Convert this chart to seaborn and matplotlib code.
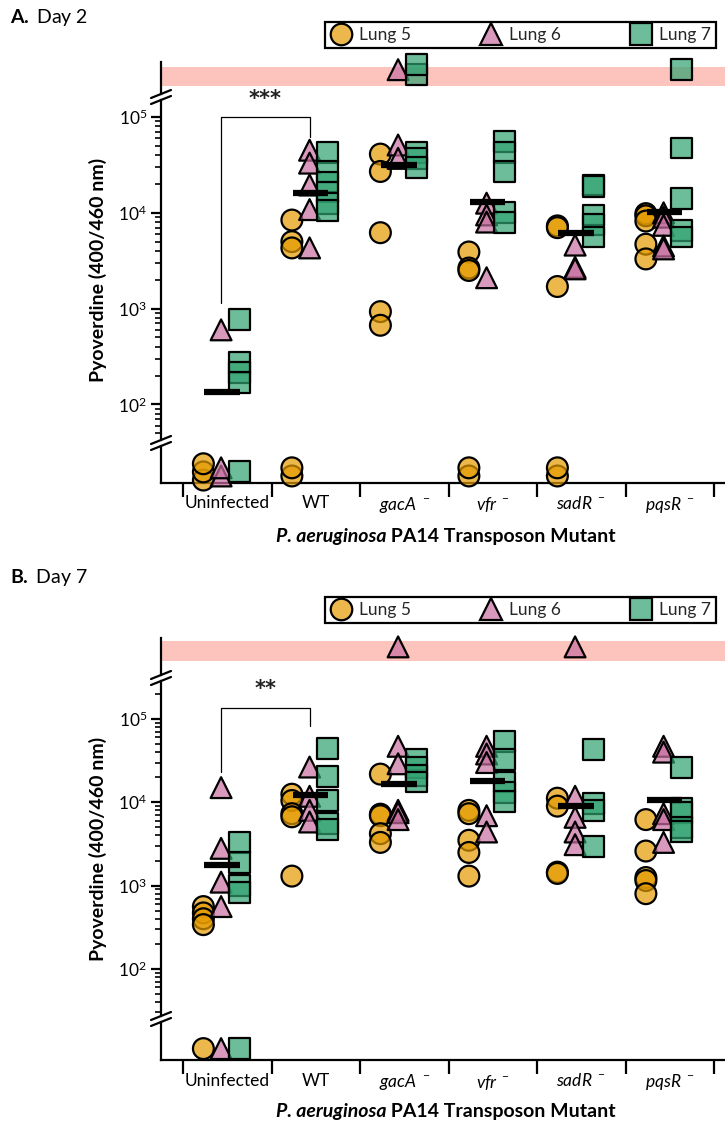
import numpy as np
import pandas as pd
import matplotlib
matplotlib.use("Agg")
import matplotlib.pyplot as plt
from matplotlib.lines import Line2D
from matplotlib.offsetbox import TextArea, HPacker, AnchoredOffsetbox
from matplotlib.ticker import LogLocator, LogFormatterSciNotation, NullFormatter, FixedLocator
import seaborn as sns

sns.set_theme(style="white")
plt.rcParams["font.family"] = ["Lato", "DejaVu Sans"]
plt.rcParams["mathtext.fontset"] = "custom"
plt.rcParams["mathtext.rm"] = "Lato"
plt.rcParams["mathtext.it"] = "Lato:italic"
plt.rcParams["mathtext.bf"] = "Lato:bold"
plt.rcParams["mathtext.default"] = "regular"

ND = 0.0       # below the detection limit
SAT = np.inf   # above the plate-reader range

categories = ["Uninfected", "WT", "gacA", "vfr", "sadR", "pqsR"]
is_mutant = [False, False, True, True, True, True]
lungs = ["Lung 5", "Lung 6", "Lung 7"]

# ---- Day 2 readings (one list per strain) ----
day2_lung5 = [
    [ND, ND, ND],
    [8400, 5000, 4300, ND, ND],
    [41000, 27000, 6200, 930, 670],
    [3900, 2650, 2500, ND, ND],
    [7300, 7000, 1700, ND, ND],
    [9800, 9300, 8200, 4700, 3300],
]
day2_lung6 = [
    [600, ND, ND],
    [45000, 33000, 19500, 10800, 4300],
    [51000, 37000, SAT],
    [12600, 9500, 8000, 2100],
    [4600, 2700, 2600],
    [10000, 9000, 7400, 4500, 4200],
]
day2_lung7 = [
    [770, 275, 215, 170, ND],
    [43000, 27000, 21000, 16500, 12500, 10500],
    [43000, 37000, 29500, SAT, SAT],
    [55000, 43000, 27000, 10000, 8000],
    [19500, 19000, 9500, 7500, 5600],
    [47500, 14000, 6600, 5600, SAT],
]
day2_center = [136, 16200, 31600, 13000, 6200, 10200]

# ---- Day 7 readings ----
day7_lung5 = [
    [560, 470, 400, 340, ND],
    [12500, 10500, 7300, 6700, 1300],
    [21800, 7200, 6900, 4200, 3300],
    [8000, 7300, 3500, 2500, 1300],
    [11200, 9000, 1450, 1400],
    [6200, 2600, 1250, 1150, 800],
]
day7_lung6 = [
    [15000, 2800, 1100, 560, ND],
    [26500, 11800, 8000, 5800],
    [47000, 29000, 8000, 7500, 6200, SAT],
    [47000, 38000, 30000, 6900, 4400],
    [11800, 6600, 4400, 3100, SAT],
    [47000, 40000, 7300, 6200, 3300],
]
day7_lung7 = [
    [3300, 1900, 1000, 820, ND],
    [44600, 20300, 10500, 5600, 4700],
    [33000, 26000, 21000, 17500],
    [54000, 33000, 17500, 13000, 10200],
    [43000, 9700, 8000, 2950],
    [26000, 8500, 7500, 5000, 4500],
]
day7_center = [1790, 12200, 16700, 18000, 9060, 10700]

# ---- styling ----
face = {
    "Lung 5": (0.894, 0.608, 0.0, 0.70),
    "Lung 6": (0.784, 0.431, 0.627, 0.70),
    "Lung 7": (0.188, 0.635, 0.439, 0.70),
}
markers = {"Lung 5": "o", "Lung 6": "^", "Lung 7": "s"}
x_shift = {"Lung 5": -0.27, "Lung 6": -0.07, "Lung 7": 0.135}
band_color = "#FCC4BD"

W, H = 725, 1124
fig = plt.figure(figsize=(W / 100, H / 100), dpi=100)


def fy(py):
    return 1 - py / H


def long_table(series):
    rows = []
    for lung, per_cat in zip(lungs, series):
        for ci, vals in enumerate(per_cat):
            for v in vals:
                rows.append({"cat": ci, "lung": lung, "value": v})
    df = pd.DataFrame(rows)
    df["x"] = df["cat"] + df["lung"].map(x_shift)
    return df


def stacked(d, center, step):
    k = d.groupby(["cat", "lung"]).cumcount()
    n = d.groupby(["cat", "lung"])["value"].transform("size")
    return center + step * (k - (n - 1) / 2)


def points(ax, d, ycol):
    sns.scatterplot(data=d, x="x", y=ycol, hue="lung", style="lung",
                    hue_order=lungs, style_order=lungs, palette=face,
                    markers=markers, s=225, edgecolor="black", linewidth=1.6,
                    legend=False, ax=ax, clip_on=False, zorder=3)
    ax.set_xlabel("")
    ax.set_ylabel("")


XLIM = (-0.749, 5.624)
LEFT = 161 / W
WIDTH = (W - 161) / W


def panel(series, centers, title, title_y, legend_top, xlabel_y, top_px, mid_px,
          bot_px, dec5_px, px_per_dec, band_px, bracket, stars, stars_y):
    df = long_table(series)
    ax_top = fig.add_axes([LEFT, fy(top_px[1]), WIDTH, (top_px[1] - top_px[0]) / H])
    ax_mid = fig.add_axes([LEFT, fy(mid_px[1]), WIDTH, (mid_px[1] - mid_px[0]) / H])
    ax_bot = fig.add_axes([LEFT, fy(bot_px[1]), WIDTH, (bot_px[1] - bot_px[0]) / H])

    for ax in (ax_top, ax_mid, ax_bot):
        ax.set_facecolor("none")
        ax.set_xlim(*XLIM)
        for s in ("top", "right", "bottom"):
            ax.spines[s].set_visible(False)
        ax.spines["left"].set_linewidth(1.6)
        ax.spines["left"].set_color("black")
        ax.tick_params(axis="x", which="both", bottom=False, labelbottom=False)
    ax_bot.spines["bottom"].set_visible(True)
    ax_bot.spines["bottom"].set_linewidth(1.6)
    ax_bot.spines["bottom"].set_color("black")

    # overflow band
    ax_top.set_ylim(0, 1)
    ax_top.set_yticks([])
    th = top_px[1] - top_px[0]
    ax_top.axhspan((top_px[1] - band_px[1]) / th, (top_px[1] - band_px[0]) / th,
                   color=band_color, lw=0, zorder=0)
    sat = df[np.isinf(df["value"])].copy()
    sat["ypos"] = stacked(sat, 0.76, 0.3)
    points(ax_top, sat, "ypos")
    ax_top.set_xlim(*XLIM)

    # measured range on a log scale
    lo = 10 ** (5 - (mid_px[1] - dec5_px) / px_per_dec)
    hi = 10 ** (5 + (dec5_px - mid_px[0]) / px_per_dec)
    meas = df[(df["value"] > 0) & np.isfinite(df["value"])].copy()
    points(ax_mid, meas, "value")
    ax_mid.set_yscale("log")
    ax_mid.set_ylim(lo, hi)
    ax_mid.set_xlim(*XLIM)
    ax_mid.yaxis.set_major_locator(FixedLocator([1e2, 1e3, 1e4, 1e5]))
    ax_mid.yaxis.set_major_formatter(LogFormatterSciNotation())
    ax_mid.yaxis.set_minor_locator(LogLocator(base=10, subs=np.arange(2, 10), numticks=20))
    ax_mid.yaxis.set_minor_formatter(NullFormatter())
    ax_mid.tick_params(axis="y", which="major", left=True, direction="out",
                       length=7, width=1.6, labelsize=12.5, pad=3, colors="black")
    ax_mid.tick_params(axis="y", which="minor", left=True, direction="out",
                       length=4, width=1.2, colors="black")
    ax_mid.set_ylabel("Pyoverdine (400/460 nm)", fontsize=14, fontweight="bold",
                      labelpad=8, color="black")

    # group centre lines
    cats = np.arange(len(categories))
    ax_mid.hlines(centers, cats - 0.26, cats + 0.14, color="black", lw=4.5, zorder=6)

    # significance bracket
    xl, xr = 0 + x_shift["Lung 6"], 1 + x_shift["Lung 6"]
    yl, ytop, yr = bracket
    ax_mid.plot([xl, xl, xr, xr], [yl, ytop, ytop, yr], color="black", lw=0.9,
                clip_on=False, zorder=4)
    ax_mid.text((xl + xr) / 2, stars_y, stars, ha="center", va="center",
                fontsize=15, fontweight="bold", color="#222222", clip_on=False,
                family="DejaVu Sans")

    # below-detection strip
    ax_bot.set_ylim(0, 1)
    ax_bot.set_yticks([])
    nd = df[df["value"] == 0].copy()
    nd["ypos"] = stacked(nd, 0.3, 0.22)
    points(ax_bot, nd, "ypos")
    ax_bot.set_xlim(*XLIM)
    ax_bot.xaxis.set_major_locator(FixedLocator(np.arange(-0.5, len(categories), 1.0)))
    ax_bot.xaxis.set_minor_locator(FixedLocator(cats))
    ax_bot.tick_params(axis="x", which="major", bottom=True, direction="out",
                       length=10, width=1.6, labelbottom=False, colors="black")
    ax_bot.tick_params(axis="x", which="minor", bottom=True, length=0,
                       labelbottom=True, labelsize=12.5, pad=9, colors="black")
    labels = [rf"$\mathit{{{c}}}^{{\ -}}$" if m else c
              for c, m in zip(categories, is_mutant)]
    ax_bot.set_xticklabels(labels, minor=True)

    # axis title: italic species name followed by upright text
    parts = HPacker(children=[
        TextArea("P. aeruginosa", textprops=dict(fontsize=14, fontweight="bold",
                                                 fontstyle="italic", color="black")),
        TextArea(" PA14 Transposon Mutant", textprops=dict(fontsize=14,
                                                           fontweight="bold",
                                                           color="black")),
    ], align="baseline", pad=0, sep=0)
    fig.add_artist(AnchoredOffsetbox(loc="center", child=parts, frameon=False,
                                     bbox_to_anchor=(446 / W, fy(xlabel_y)),
                                     bbox_transform=fig.transFigure,
                                     borderpad=0, pad=0))

    # axis break marks
    for yb in (top_px[1], mid_px[0], mid_px[1], bot_px[0]):
        fig.add_artist(Line2D([151 / W, 171 / W], [fy(yb + 4), fy(yb - 4)],
                              transform=fig.transFigure, color="black", lw=1.6))

    # panel title
    fig.text(10 / W, fy(title_y), title, fontsize=14, va="center", ha="left",
             color="black")

    # legend
    handles = [Line2D([], [], marker=markers[l], linestyle="none", markersize=15.5,
                      markerfacecolor=face[l], markeredgecolor="black",
                      markeredgewidth=1.6, label=l) for l in lungs]
    leg = fig.legend(handles=handles, loc="upper left",
                     bbox_to_anchor=(325 / W, fy(legend_top)),
                     ncol=3, frameon=True, fancybox=False,
                     edgecolor="black", framealpha=1, borderaxespad=0,
                     handletextpad=0.45, borderpad=0.3, fontsize=12.5,
                     handlelength=1.2, columnspacing=4.0)
    leg.get_frame().set_linewidth(1.6)


panel([day2_lung5, day2_lung6, day2_lung7], day2_center,
      r"$\mathbf{A.}$ Day 2", 18, 22, 537,
      top_px=(62, 94), mid_px=(100, 440), bot_px=(446, 483),
      dec5_px=117, px_per_dec=95.8, band_px=(67, 86),
      bracket=(1150, 1e5, 62000), stars="***", stars_y=10 ** 5.19)

panel([day7_lung5, day7_lung6, day7_lung7], day7_center,
      r"$\mathbf{B.}$ Day 7", 578, 597, 1111,
      top_px=(638, 675), mid_px=(681, 1016), bot_px=(1022, 1060),
      dec5_px=719, px_per_dec=83.3, band_px=(641, 661),
      bracket=(23000, 10 ** 5.13, 83000), stars="**", stars_y=10 ** 5.36)

fig.savefig("out.png", dpi=100)
